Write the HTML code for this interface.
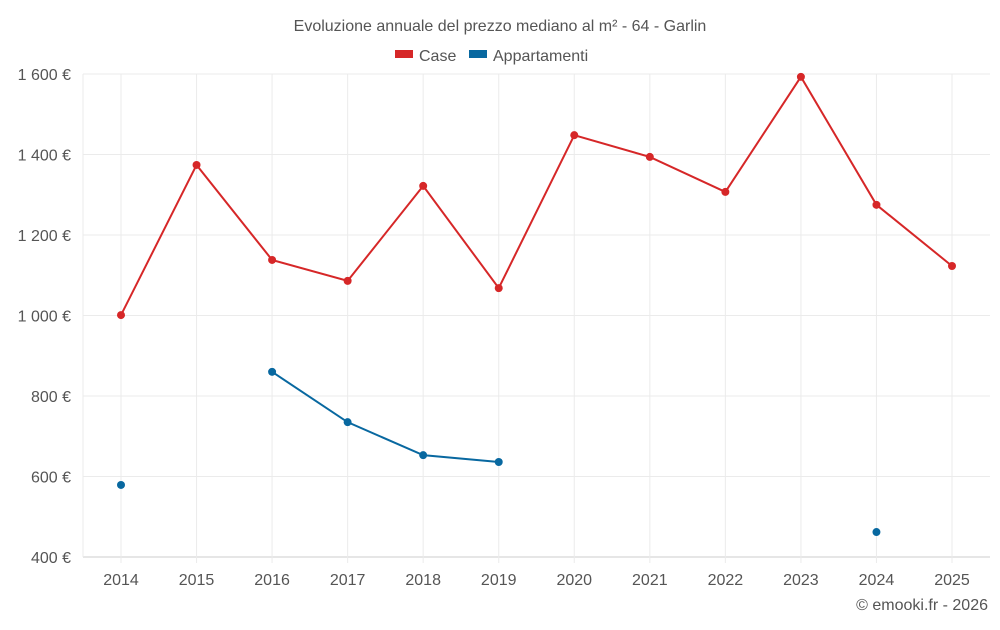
<!DOCTYPE html>
<html><head><meta charset="utf-8">
<style>
body{margin:0;background:#fff;font-family:"Liberation Sans",sans-serif;}
svg text{font-family:"Liberation Sans",sans-serif;fill:#555;}
</style></head>
<body>
<svg id="chart" width="1000" height="625">
<text x="500" y="31" text-anchor="middle" font-size="16">Evoluzione annuale del prezzo mediano al m² - 64 - Garlin</text>
<g><rect x="395" y="50" width="18" height="8" fill="#d62728"/><text x="419" y="61" font-size="16">Case</text></g>
<g><rect x="469" y="50" width="18" height="8" fill="#0868a0"/><text x="493" y="61" font-size="16">Appartamenti</text></g>
<g id="grid"></g><g id="marks"></g>
<text x="988" y="610" text-anchor="end" font-size="16">© emooki.fr - 2026</text>
</svg>
<script>
const years=[2014,2015,2016,2017,2018,2019,2020,2021,2022,2023,2024,2025];
const caseValues=[1001,1374,1138,1086,1322,1068,1448,1394,1307,1593,1275,1123];
const aptValues=[579,null,860,735,653,636,null,null,null,null,462,null];
const yTicks=[400,600,800,1000,1200,1400,1600];
const yTickLabels=["400 €","600 €","800 €","1 000 €","1 200 €","1 400 €","1 600 €"];
const NS="http://www.w3.org/2000/svg";
const L=83,R=990,T=74,B=557;
const x=i=>121+i*(952-121)/(years.length-1);
const y=v=>B-(v-400)/(1600-400)*(B-T);
const grid=document.getElementById('grid'),marks=document.getElementById('marks');
function mk(tag,a,p){const e=document.createElementNS(NS,tag);for(const k in a)e.setAttribute(k,a[k]);p.appendChild(e);return e;}
yTicks.forEach((v,i)=>{
 const l=mk('line',{x1:L,x2:R,y1:y(v),y2:y(v),stroke:i==0?'#ccc':'#ebebeb'},grid);
 
 
 const t=mk('text',{x:71,y:y(v)+6,'text-anchor':'end','font-size':16},grid);t.textContent=yTickLabels[i];
 
 
});
years.forEach((yr,i)=>{
 const l=mk('line',{x1:x(i),x2:x(i),y1:T,y2:B+6,stroke:'#ebebeb'},grid);
 
 
 const t=mk('text',{x:x(i),y:585,'text-anchor':'middle','font-size':16},grid);t.textContent=yr;
 
 
});
mk('line',{x1:L,x2:L,y1:T,y2:B,stroke:'#ebebeb'},grid);
function series(vals,color,name){
 let seg=[];const segs=[];
 vals.forEach((v,i)=>{if(v==null){if(seg.length)segs.push(seg);seg=[];}else seg.push([x(i),y(v)]);});
 if(seg.length)segs.push(seg);
 segs.forEach(s=>{if(s.length>1){const p=mk('polyline',{points:s.map(q=>q.join(',')).join(' '),fill:'none',stroke:color,'stroke-width':2},marks);
  
  }});
 vals.forEach((v,i)=>{if(v==null)return;const c=mk('circle',{cx:x(i),cy:y(v),r:4,fill:color},marks);
  
  });
}
series(caseValues,'#d62728','case');
series(aptValues,'#0868a0','appartamenti');
</script>
</body></html>
